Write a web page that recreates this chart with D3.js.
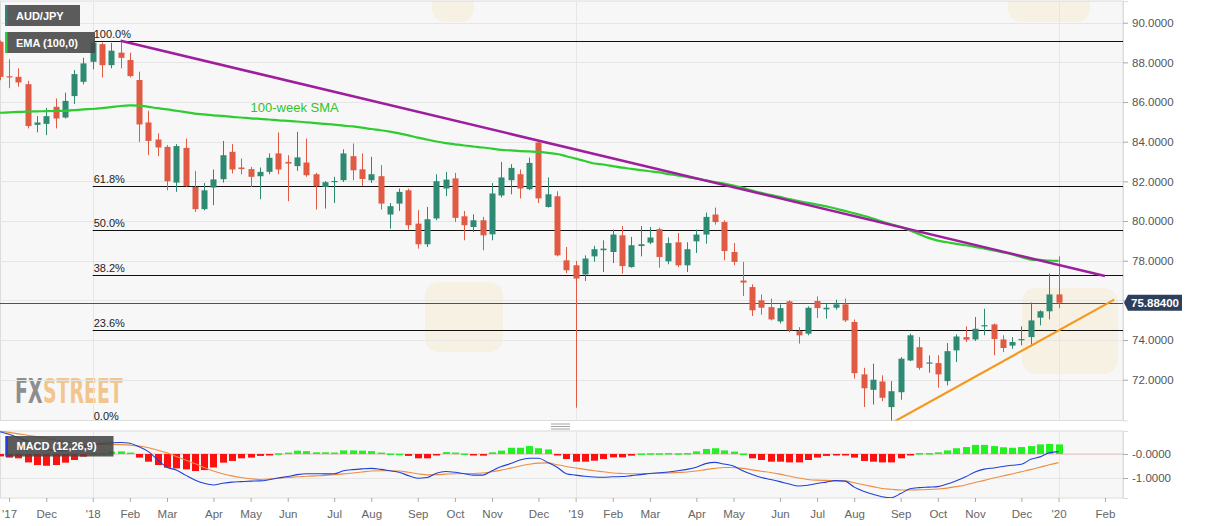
<!DOCTYPE html>
<html><head><meta charset="utf-8">
<script src="https://cdn.jsdelivr.net/npm/d3@7"></script>
<style>
body{margin:0;background:#fff;}
svg{display:block;font-family:"Liberation Sans",Arial,sans-serif;}
</style>
</head><body>
<svg id="chart" width="1207" height="526"></svg>
<script>
// ---------------- DATA (weekly AUD/JPY) ----------------
const firstWeek = "2017-10-22", lastWeek = "2019-12-29";
const opens = [89.04,87.3,87.27,86.9,84.85,84.9,85.76,85.22,86.3,87.02,
 88.03,88.92,87.86,88.49,88.12,87.11,84.97,84.11,83.74,81.94,
 83.69,81.72,80.6,81.69,82.11,83.49,82.7,82.62,82.26,82.48,
 83.41,82.98,82.77,82.95,82.36,81.72,81.96,82.06,83.27,82.61,
 82.06,82.26,80.33,80.88,81.55,79.87,78.83,80.13,81.64,82.15,
 80.24,79.7,80.04,79.33,81.29,82.06,82.36,81.61,83.96,80.71,
 81.25,78.02,77.77,77.31,78.22,78.53,78.44,79.28,77.68,78.74,
 78.91,79.59,77.97,78.93,77.77,78.98,79.32,80.33,79.95,78.44,
 77.0,76.67,76.0,75.66,74.94,75.95,74.45,74.32,75.97,75.55,
 75.63,75.8,74.91,72.27,71.49,71.91,70.62,71.37,72.97,73.64,
 72.81,72.84,71.93,73.48,74.15,74.03,74.69,74.79,74.03,73.72,
 73.99,74.15,75.13,75.45,76.3];
const highs = [89.1,88.15,87.7,87.07,85.29,85.71,86.18,86.47,87.61,88.23,
 89.08,89.0,88.98,89.05,88.49,87.53,85.56,84.42,83.83,83.88,
 84.16,82.53,81.92,82.6,84.04,83.88,83.15,82.73,82.7,83.41,
 84.47,83.32,84.5,84.16,82.43,82.02,82.23,83.62,83.91,83.41,
 83.24,82.82,80.91,81.64,81.64,80.55,80.71,82.36,82.48,82.43,
 80.51,80.34,80.21,81.92,82.98,82.87,82.6,83.2,84.04,82.2,
 81.5,78.69,77.99,78.27,78.75,79.03,79.57,79.75,79.2,79.75,
 79.7,79.67,79.17,79.4,78.93,79.57,80.43,80.68,80.04,78.89,
 77.94,76.81,76.3,76.09,75.8,76.0,74.65,75.7,76.2,75.83,
 76.04,76.09,75.04,72.6,72.81,72.22,71.93,73.14,74.32,74.15,
 73.23,73.23,73.85,74.29,74.69,75.16,75.58,74.83,74.24,74.15,
 74.69,75.89,75.5,77.35,78.22];
const lows = [87.1,86.7,86.77,84.67,84.47,84.33,84.67,85.17,85.9,86.89,
 87.65,87.24,87.7,87.7,87.24,83.99,83.32,83.27,81.55,81.47,
 81.72,80.46,80.54,80.8,81.94,82.4,82.36,81.72,81.1,82.36,
 82.36,81.0,82.53,82.23,80.58,80.63,80.91,81.97,82.06,81.76,
 81.92,80.58,79.62,80.51,79.57,78.61,78.69,80.04,81.25,79.95,
 79.03,79.45,78.53,79.03,81.19,81.35,81.14,81.56,80.91,80.68,
 78.22,77.38,70.59,76.98,77.95,77.43,77.88,77.35,77.65,78.22,
 78.83,77.65,77.82,77.68,77.43,78.39,78.86,79.82,78.02,77.77,
 76.22,75.21,75.28,74.99,74.83,74.4,73.82,74.24,75.11,75.08,
 75.53,74.91,72.05,70.62,70.75,70.92,69.9,70.99,72.94,72.5,
 72.35,71.6,71.71,72.89,73.9,73.95,74.24,73.23,73.39,73.56,
 73.73,73.68,74.74,75.04,75.6];
const closes = [87.27,87.25,86.99,84.79,84.97,85.29,85.17,86.06,87.41,87.95,
 89.0,87.86,88.59,88.23,87.31,84.87,84.04,83.71,82.01,83.78,
 81.77,80.6,81.55,82.1,83.32,82.6,82.62,82.23,82.48,83.19,
 82.6,82.9,83.21,82.31,81.76,81.96,82.02,83.41,82.56,82.12,
 82.36,80.88,80.75,81.47,79.79,78.83,80.09,82.01,82.09,80.16,
 79.79,80.04,79.28,81.39,82.2,82.68,81.64,82.93,81.14,81.35,
 78.27,77.52,77.1,78.11,78.58,78.61,79.32,77.73,78.78,78.83,
 79.17,78.19,78.89,77.77,78.58,79.32,80.21,79.95,78.49,77.94,
 76.9,75.5,75.63,75.04,75.61,74.49,74.24,75.63,75.61,75.63,
 75.8,74.99,72.33,71.57,72.0,71.09,71.42,73.06,74.24,72.6,
 72.87,72.27,73.44,74.18,74.02,74.57,74.75,74.05,73.6,73.9,
 74.05,74.99,75.45,76.3,75.884];
const sma100 = [85.46,85.48,85.50,85.52,85.53,85.54,85.55,85.56,85.59,85.63,
 85.65,85.69,85.74,85.80,85.83,85.82,85.76,85.69,85.63,85.56,
 85.49,85.42,85.38,85.33,85.30,85.25,85.22,85.18,85.15,85.12,
 85.08,85.05,85.02,84.98,84.94,84.90,84.86,84.81,84.77,84.71,
 84.64,84.58,84.51,84.42,84.32,84.21,84.11,84.01,83.93,83.87,
 83.81,83.76,83.71,83.65,83.59,83.56,83.53,83.51,83.49,83.44,
 83.38,83.27,83.15,83.03,82.90,82.85,82.77,82.69,82.63,82.57,
 82.51,82.45,82.37,82.30,82.22,82.14,82.05,81.97,81.89,81.79,
 81.67,81.54,81.42,81.32,81.22,81.11,81.01,80.92,80.83,80.74,
 80.63,80.51,80.39,80.27,80.13,79.98,79.84,79.71,79.53,79.34,
 79.15,79.01,78.93,78.85,78.78,78.70,78.61,78.52,78.42,78.32,
 78.18,78.06,78.04,78.01,77.99];
const macdLine = [0.93,0.82,0.68,0.52,0.33,0.2,0.14,0.15,0.22,0.3,
 0.38,0.44,0.47,0.48,0.45,0.3,0.1,-0.25,-0.55,-0.67,
 -0.88,-1.08,-1.22,-1.29,-1.22,-1.17,-1.15,-1.13,-1.12,-1.07,
 -1.0,-0.94,-0.86,-0.82,-0.82,-0.83,-0.82,-0.7,-0.65,-0.62,
 -0.6,-0.64,-0.7,-0.76,-0.9,-1.01,-0.98,-0.8,-0.73,-0.76,
 -0.82,-0.88,-0.88,-0.7,-0.52,-0.4,-0.25,-0.18,-0.18,-0.35,
 -0.55,-0.82,-0.88,-0.93,-0.96,-0.97,-0.95,-0.94,-0.9,-0.86,
 -0.81,-0.78,-0.75,-0.7,-0.64,-0.55,-0.4,-0.35,-0.42,-0.5,
 -0.7,-0.85,-0.98,-1.06,-1.15,-1.25,-1.33,-1.3,-1.23,-1.17,
 -1.11,-1.13,-1.38,-1.55,-1.68,-1.78,-1.82,-1.65,-1.45,-1.4,
 -1.38,-1.36,-1.25,-1.11,-0.95,-0.75,-0.63,-0.58,-0.52,-0.47,
 -0.43,-0.22,-0.12,0.05,0.1];
const signalLine = [0.96,0.9,0.84,0.78,0.72,0.65,0.58,0.51,0.45,0.42,
 0.41,0.4,0.4,0.39,0.37,0.33,0.26,0.16,0.05,-0.1,
 -0.25,-0.4,-0.56,-0.71,-0.82,-0.91,-0.98,-1.03,-1.06,-1.04,
 -1.0,-0.98,-0.95,-0.93,-0.91,-0.89,-0.86,-0.83,-0.79,-0.75,
 -0.71,-0.7,-0.7,-0.71,-0.76,-0.82,-0.87,-0.86,-0.84,-0.82,
 -0.81,-0.81,-0.79,-0.74,-0.67,-0.59,-0.5,-0.43,-0.38,-0.37,
 -0.45,-0.52,-0.58,-0.64,-0.7,-0.74,-0.79,-0.81,-0.82,-0.82,
 -0.81,-0.8,-0.79,-0.77,-0.75,-0.71,-0.65,-0.6,-0.56,-0.56,
 -0.6,-0.66,-0.72,-0.77,-0.84,-0.92,-1.0,-1.06,-1.09,-1.1,
 -1.11,-1.12,-1.2,-1.28,-1.36,-1.44,-1.47,-1.5,-1.5,-1.49,
 -1.48,-1.46,-1.42,-1.36,-1.29,-1.19,-1.1,-1.0,-0.92,-0.83,
 -0.74,-0.65,-0.55,-0.45,-0.36];
const histogram = [-0.1,-0.15,-0.18,-0.35,-0.46,-0.49,-0.46,-0.36,-0.25,-0.11,
 0.04,0.04,0.1,0.11,0.06,-0.15,-0.32,-0.46,-0.57,-0.6,
 -0.64,-0.71,-0.67,-0.56,-0.36,-0.29,-0.18,-0.15,-0.08,-0.02,
 0.03,0.06,0.14,0.12,0.07,0.07,0.06,0.15,0.15,0.14,
 0.12,0.06,0.02,0.01,-0.08,-0.18,-0.18,-0.02,0.08,0.06,
 0.02,-0.01,-0.07,0.07,0.14,0.26,0.26,0.33,0.24,0.19,
 -0.02,-0.21,-0.32,-0.32,-0.28,-0.21,-0.14,-0.14,-0.07,0.02,
 0.03,0.03,0.04,0.03,0.04,0.11,0.21,0.24,0.15,0.1,
 0.02,-0.18,-0.25,-0.32,-0.32,-0.35,-0.35,-0.25,-0.15,-0.08,
 -0.02,-0.02,-0.15,-0.29,-0.32,-0.35,-0.35,-0.18,-0.02,0.04,
 0.04,0.07,0.15,0.24,0.29,0.38,0.38,0.33,0.28,0.26,
 0.29,0.33,0.4,0.42,0.4];
const priceTicks = [72,74,76,78,80,82,84,86,88,90];
const macdTicks = [0,-1];
const macdTickLabels = ["-0.0000","-1.0000"];
const fibStart = "2017-12-31";
const fibLabels = ["100.0%","61.8%","50.0%","38.2%","23.6%","0.0%"];
const fibValues = [89.08,81.76,79.54,77.28,74.49,69.81];
const lastPrice = 75.884;
const resistanceLine = [["2018-01-21",89.09],["2020-02-02",77.23]];
const supportLine = [["2019-08-25",69.81],["2020-02-09",76.04]];
const smaLabel = {text:"100-week SMA", date:"2018-04-29", value:85.52};
const monthTickDates = ["2017-10-29","2017-11-26","2017-12-31","2018-01-28","2018-02-25","2018-04-01","2018-04-29","2018-05-27","2018-07-01","2018-07-29","2018-09-02","2018-09-30","2018-10-28","2018-12-02","2018-12-30","2019-01-27","2019-02-24","2019-03-31","2019-04-28","2019-06-02","2019-06-30","2019-07-28","2019-09-01","2019-09-29","2019-10-27","2019-12-01","2019-12-29","2020-02-02"];
const monthTickLabels = ["'17","Dec","'18","Feb","Mar","Apr","May","Jun","Jul","Aug","Sep","Oct","Nov","Dec","'19","Feb","Mar","Apr","May","Jun","Jul","Aug","Sep","Oct","Nov","Dec","'20","Feb"];
const yearLineDates = ["2017-12-31","2018-12-30","2019-12-29"];

// ---------------- SETUP ----------------
const parse = d3.utcParse("%Y-%m-%d");
const weeks = d3.utcSunday.range(parse(firstWeek), d3.utcDay.offset(parse(lastWeek),1));
const candles = weeks.map((d,i)=>({date:d,o:opens[i],h:highs[i],l:lows[i],c:closes[i],sma:sma100[i],macd:macdLine[i],sig:signalLine[i],hist:histogram[i]}));

const svg = d3.select("#chart");
const W = 1123, mainTop = 1, mainBottom = 420.5, macdTop = 431, macdBottom = 498;
const PLOT_BG = "#f7f7f7", BORDER = "#dcdcdc", GRID = "#e6e6e6";
const UP = "#2f8a73", DOWN = "#e05a44";

const x = d3.scaleUtc()
  .domain([new Date(Date.UTC(2017,9,22,3)), new Date(Date.UTC(2020,1,15,14))])
  .range([0, W]);
const y = d3.scaleLinear().domain([69.944, 91.095]).range([mainBottom, mainTop]);
const ym = d3.scaleLinear().domain([-1.833, 0.958]).range([macdBottom, macdTop]);

const defs = svg.append("defs");
defs.append("clipPath").attr("id","clipMain").append("rect")
  .attr("x",0).attr("y",mainTop).attr("width",W).attr("height",mainBottom-mainTop);
defs.append("clipPath").attr("id","clipMacd").append("rect")
  .attr("x",0).attr("y",macdTop).attr("width",W).attr("height",macdBottom-macdTop);

// panel backgrounds
svg.append("rect").attr("x",0.5).attr("y",mainTop).attr("width",W-0.5).attr("height",mainBottom-mainTop)
  .attr("fill",PLOT_BG).attr("stroke",BORDER);
svg.append("rect").attr("x",0.5).attr("y",macdTop).attr("width",W-0.5).attr("height",macdBottom-macdTop)
  .attr("fill",PLOT_BG).attr("stroke",BORDER);

// faint watermark tiles (background decoration)
const wm = svg.append("g").attr("clip-path","url(#clipMain)").attr("pointer-events","none");
[[425,282,78,70],[1022,288,96,86],[432,-14,42,36],[1008,-18,82,40]].forEach(r=>{
  wm.append("rect").attr("x",r[0]).attr("y",r[1]).attr("width",r[2]).attr("height",r[3]).attr("rx",14)
    .attr("fill","#f3d67a").attr("opacity",0.16);
});

// FXSTREET logo (condensed: narrow font stretched vertically)
const logoFont = "'DejaVu Sans Condensed','Liberation Sans Narrow','Liberation Sans',sans-serif";
const logo = svg.append("g").attr("transform","translate(15,402.5) scale(1,1.6)");
logo.append("text").attr("x",0).attr("y",0).attr("font-size",21).attr("font-weight","bold")
  .attr("font-family",logoFont).attr("fill","#8e8e8e").text("FX");
logo.append("text").attr("x",28).attr("y",0).attr("font-size",21).attr("font-weight","bold")
  .attr("font-family",logoFont).attr("fill","#f3c58e").text("STREET");

// grid lines main
const gMain = svg.append("g").attr("clip-path","url(#clipMain)");
gMain.selectAll(".hg").data(priceTicks).join("line")
  .attr("x1",0).attr("x2",W).attr("y1",d=>Math.round(y(d))+0.5).attr("y2",d=>Math.round(y(d))+0.5)
  .attr("stroke",GRID);
gMain.selectAll(".vg").data(yearLineDates).join("line")
  .attr("x1",d=>Math.round(x(parse(d)))+0.5).attr("x2",d=>Math.round(x(parse(d)))+0.5)
  .attr("y1",mainTop).attr("y2",mainBottom).attr("stroke",GRID);

// fibonacci lines
gMain.selectAll(".fib").data(fibValues).join("line")
  .attr("x1",x(parse(fibStart))).attr("x2",W)
  .attr("y1",d=>Math.round(y(d))+0.5).attr("y2",d=>Math.round(y(d))+0.5)
  .attr("stroke","#111").attr("stroke-width",1.2);
svg.selectAll(".fibt").data(fibValues).join("text")
  .attr("x",x(parse(fibStart))+1).attr("y",(d,i)=>Math.min(y(d)-3, mainBottom-0.5))
  .attr("font-size",11).attr("fill","#222").text((d,i)=>fibLabels[i]);

// last price line
gMain.append("line").attr("x1",0).attr("x2",W)
  .attr("y1",Math.round(y(lastPrice))+0.5).attr("y2",Math.round(y(lastPrice))+0.5)
  .attr("stroke","#44546e").attr("stroke-width",1);

// candles
const cw = 6;
const cg = gMain.append("g");
cg.selectAll(".wick").data(candles).join("line")
  .attr("x1",d=>Math.round(x(d.date))+0.5).attr("x2",d=>Math.round(x(d.date))+0.5)
  .attr("y1",d=>y(d.h)).attr("y2",d=>y(d.l))
  .attr("stroke",d=>d.c>=d.o?UP:DOWN).attr("stroke-width",1);
cg.selectAll(".body").data(candles).join("rect")
  .attr("x",d=>Math.round(x(d.date))+0.5-cw/2).attr("width",cw)
  .attr("y",d=>y(Math.max(d.o,d.c)))
  .attr("height",d=>Math.max(1.2, Math.abs(y(d.o)-y(d.c))))
  .attr("fill",d=>d.c>=d.o?UP:DOWN);

// SMA line
gMain.append("path").datum(candles)
  .attr("d",d3.line().x(d=>x(d.date)).y(d=>y(d.sma)).curve(d3.curveMonotoneX))
  .attr("fill","none").attr("stroke","#2fcc2f").attr("stroke-width",2.2);
svg.append("text").attr("x",x(parse(smaLabel.date))).attr("y",y(smaLabel.value))
  .attr("font-size",13).attr("fill","#2ec42e").text(smaLabel.text);

// trend lines
const tl = d3.line().x(d=>x(parse(d[0]))).y(d=>y(d[1]));
gMain.append("path").datum(resistanceLine).attr("d",tl)
  .attr("fill","none").attr("stroke","#9d1f9e").attr("stroke-width",2.5);
gMain.append("path").datum(supportLine).attr("d",tl)
  .attr("fill","none").attr("stroke","#f5981d").attr("stroke-width",2.2);

// right price axis
const ly = y(lastPrice);
const yAxis = d3.axisRight(y).tickValues(priceTicks).tickFormat(d3.format(".4f")).tickSize(5).tickPadding(4);
const ga = svg.append("g").attr("transform",`translate(${W},0)`).call(yAxis);
ga.select(".domain").attr("stroke",BORDER);
ga.selectAll(".tick line").attr("stroke","#aaa");
ga.selectAll(".tick text").attr("font-size",11.5).attr("fill","#555").attr("font-family","'Liberation Sans',Arial,sans-serif");
// the tick label hidden behind the last-price tag in the reference
ga.selectAll(".tick").filter(d=>Math.abs(y(d)-ly)<10).select("text").remove();

// last price label
svg.append("path").attr("d",`M${W+1},${ly} L${W+5},${ly-8} L${W+59},${ly-8} L${W+59},${ly+8} L${W+5},${ly+8} Z`)
  .attr("fill","#2d3f5c");
svg.append("text").attr("x",W+8).attr("y",ly+4).attr("font-size",11.5).attr("font-weight","bold")
  .attr("fill","#fff").text(d3.format(".5f")(lastPrice));

// splitter handle
[425,427.5,430].forEach(v=>svg.append("line").attr("x1",551).attr("x2",570).attr("y1",v-1).attr("y2",v-1)
  .attr("stroke","#8a8a8a").attr("stroke-width",0.8));

// ---------------- MACD panel ----------------
const gM = svg.append("g").attr("clip-path","url(#clipMacd)");
gM.selectAll(".mh").data(macdTicks).join("line")
  .attr("x1",0).attr("x2",W).attr("y1",d=>Math.round(ym(d))+0.5).attr("y2",d=>Math.round(ym(d))+0.5)
  .attr("stroke",GRID);
gM.selectAll(".mv").data(yearLineDates).join("line")
  .attr("x1",d=>Math.round(x(parse(d)))+0.5).attr("x2",d=>Math.round(x(parse(d)))+0.5)
  .attr("y1",macdTop).attr("y2",macdBottom).attr("stroke",GRID);
gM.append("line").attr("x1",0).attr("x2",W).attr("y1",ym(0)).attr("y2",ym(0))
  .attr("stroke","#f2b0b0").attr("stroke-width",0.8);
gM.selectAll(".hb").data(candles).join("rect")
  .attr("x",d=>Math.round(x(d.date))+0.5-3.5).attr("width",7)
  .attr("y",d=>d.hist>=0?ym(d.hist):ym(0))
  .attr("height",d=>Math.max(1.5,Math.abs(ym(d.hist)-ym(0))))
  .attr("fill",d=>d.hist>=0?"#22f222":"#ff1010");
gM.append("path").datum(candles)
  .attr("d",d3.line().x(d=>x(d.date)).y(d=>ym(d.sig)).curve(d3.curveMonotoneX))
  .attr("fill","none").attr("stroke","#f08c40").attr("stroke-width",1.1);
gM.append("path").datum(candles)
  .attr("d",d3.line().x(d=>x(d.date)).y(d=>ym(d.macd)).curve(d3.curveMonotoneX))
  .attr("fill","none").attr("stroke","#2040d8").attr("stroke-width",1.1);

const mAxis = d3.axisRight(ym).tickValues(macdTicks).tickFormat((d,i)=>macdTickLabels[i]).tickSize(5).tickPadding(4);
const gma = svg.append("g").attr("transform",`translate(${W},0)`).call(mAxis);
gma.select(".domain").attr("stroke",BORDER);
gma.selectAll(".tick line").attr("stroke","#aaa");
gma.selectAll(".tick text").attr("font-size",11.5).attr("fill","#555").attr("font-family","'Liberation Sans',Arial,sans-serif");

// bottom time axis
const xAxis = d3.axisBottom(x).tickValues(monthTickDates.map(parse))
  .tickFormat((d,i)=>monthTickLabels[i]).tickSize(4).tickPadding(8);
const gx = svg.append("g").attr("transform",`translate(0,${macdBottom})`).call(xAxis);
gx.select(".domain").remove();
gx.selectAll(".tick line").attr("stroke","#aaa");
gx.selectAll(".tick text").attr("font-size",11.5).attr("fill","#666").attr("font-family","'Liberation Sans',Arial,sans-serif");

// ---------------- legend boxes ----------------
function box(x0,y0,w,h,accent,label){
  svg.append("rect").attr("x",x0).attr("y",y0).attr("width",w).attr("height",h).attr("fill","rgba(70,70,70,0.88)");
  svg.append("rect").attr("x",x0).attr("y",y0).attr("width",2.5).attr("height",h).attr("fill",accent);
  svg.append("text").attr("x",x0+11).attr("y",y0+h/2+4).attr("font-size",11).attr("font-weight","bold")
    .attr("fill","#fff").text(label);
}
box(5,5,75,21,"#3a7d7a","AUD/JPY");
box(5,32,90,21,"#2ecc40","EMA (100,0)");
box(5.5,436,108,20.5,"#2040d8","MACD (12,26,9)");
</script>
</body></html>
